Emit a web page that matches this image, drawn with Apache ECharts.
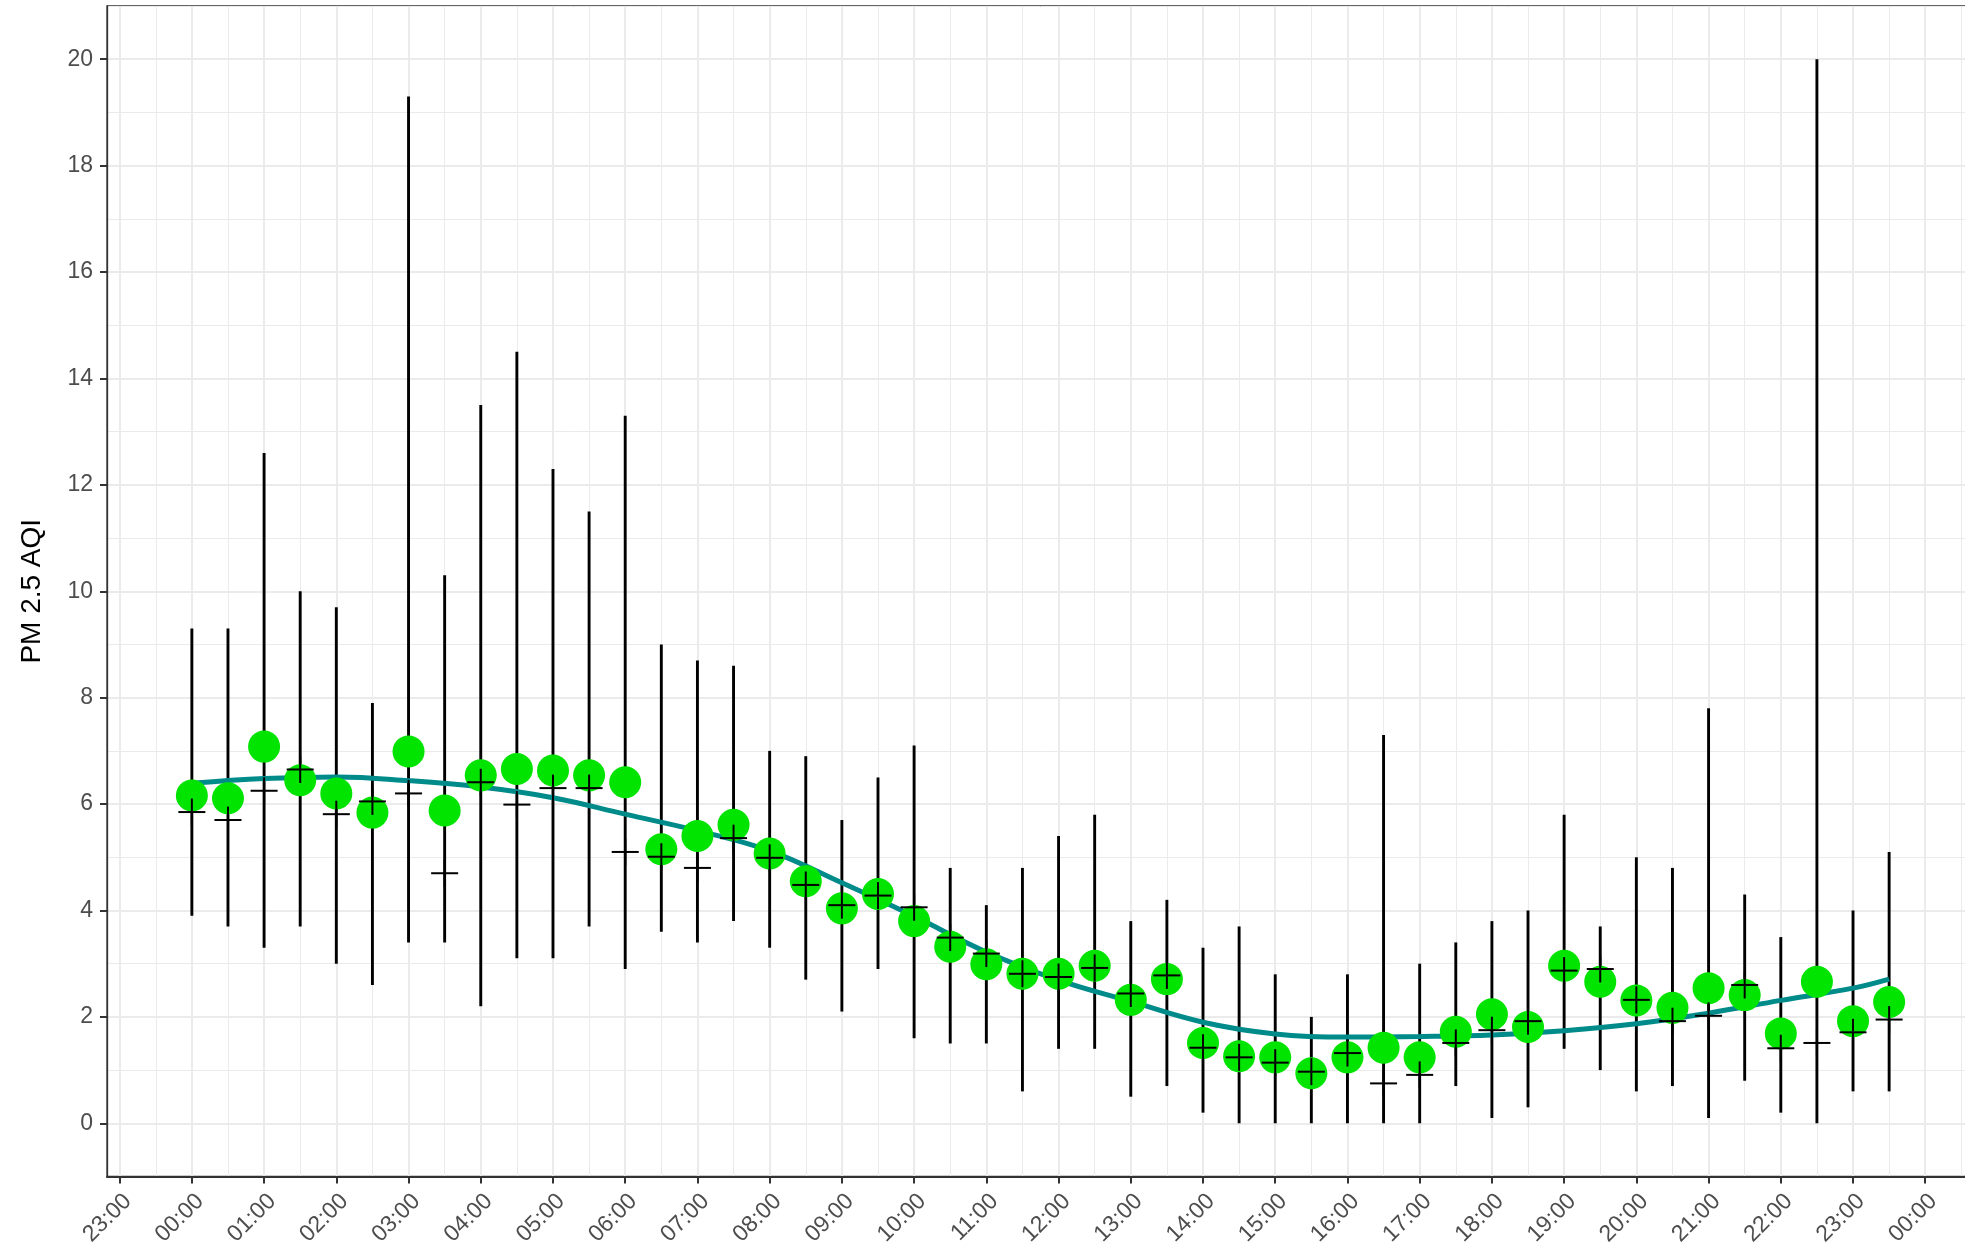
<!DOCTYPE html>
<html>
<head>
<meta charset="utf-8">
<script src="https://cdn.jsdelivr.net/npm/echarts@6/dist/echarts.min.js"></script>
<style>
html,body{margin:0;padding:0;background:#fff;overflow:hidden;}
#chart{width:1974px;height:1249px;}
</style>
</head>
<body>
<div id="chart"></div>
<script>
// Half-hourly categories
const times = ['00:00','00:30','01:00','01:30','02:00','02:30','03:00','03:30','04:00','04:30','05:00','05:30',
  '06:00','06:30','07:00','07:30','08:00','08:30','09:00','09:30','10:00','10:30','11:00','11:30',
  '12:00','12:30','13:00','13:30','14:00','14:30','15:00','15:30','16:00','16:30','17:00','17:30',
  '18:00','18:30','19:00','19:30','20:00','20:30','21:00','21:30','22:00','22:30','23:00','23:30'];
// Mean (green dots)
const means = [6.16,6.11,7.08,6.45,6.20,5.84,6.99,5.88,6.54,6.66,6.63,6.54,
  6.41,5.15,5.40,5.61,5.07,4.55,4.04,4.31,3.80,3.32,2.99,2.81,
  2.81,2.96,2.32,2.71,1.51,1.26,1.24,0.94,1.24,1.42,1.24,1.72,
  2.05,1.81,2.96,2.66,2.31,2.17,2.54,2.41,1.69,2.66,1.92,2.28];
// Median (+ marks)
const medians = [5.85,5.70,6.25,6.65,5.81,6.05,6.20,4.70,6.41,5.99,6.30,6.30,
  5.10,5.01,4.80,5.36,4.99,4.48,4.10,4.28,4.06,3.49,3.19,2.81,
  2.75,2.92,2.44,2.78,1.42,1.24,1.14,0.97,1.32,0.75,0.91,1.51,
  1.75,1.92,2.87,2.90,2.32,1.92,2.02,2.60,1.41,1.51,1.71,1.95];
// Range minimum / maximum
const mins = [3.9,3.7,3.3,3.7,3.0,2.6,3.4,3.4,2.2,3.1,3.1,3.7,
  2.9,3.6,3.4,3.8,3.3,2.7,2.1,2.9,1.6,1.5,1.5,0.6,
  1.4,1.4,0.5,0.7,0.2,0.0,0.0,0.0,0.0,0.0,0.0,0.7,
  0.1,0.3,1.4,1.0,0.6,0.7,0.1,0.8,0.2,0.0,0.6,0.6];
const maxs = [9.3,9.3,12.6,10.0,9.7,7.9,19.3,10.3,13.5,14.5,12.3,11.5,
  13.3,9.0,8.7,8.6,7.0,6.9,5.7,6.5,7.1,4.8,4.1,4.8,
  5.4,5.8,3.8,4.2,3.3,3.7,2.8,2.0,2.8,7.3,3.0,3.4,
  3.8,4.0,5.8,3.7,5.0,4.8,7.8,4.3,3.5,20.0,4.0,5.1];
// Smoothed trend (teal line)
const smoothTimes = ['00:00','01:00','02:00','03:00','04:00','05:00','06:00','07:00','08:00','09:00','10:00','11:00',
  '12:00','13:00','14:00','15:00','16:00','17:00','18:00','19:00','20:00','21:00','22:00','23:00','23:30'];
const smoothVals = [6.39,6.48,6.51,6.44,6.32,6.12,5.81,5.50,5.12,4.52,3.89,3.22,
  2.69,2.29,1.90,1.68,1.62,1.63,1.66,1.74,1.87,2.07,2.31,2.54,2.71];
// Tick labels
const xTickValues = [-1,0,1,2,3,4,5,6,7,8,9,10,11,12,13,14,15,16,17,18,19,20,21,22,23,24];
const xTickLabels = ['23:00','00:00','01:00','02:00','03:00','04:00','05:00','06:00','07:00','08:00','09:00','10:00','11:00',
  '12:00','13:00','14:00','15:00','16:00','17:00','18:00','19:00','20:00','21:00','22:00','23:00','00:00'];
const yTickValues = [0,2,4,6,8,10,12,14,16,18,20];

function toHours(t){ const p = t.split(':'); return +p[0] + (+p[1])/60; }

const rangeData = times.map((t,i)=>[toHours(t), mins[i], maxs[i]]);
const meanData = times.map((t,i)=>[toHours(t), means[i]]);
const medData = times.map((t,i)=>[toHours(t), medians[i]]);
const smoothData = smoothTimes.map((t,i)=>[toHours(t), smoothVals[i]]);

const X_MIN = -1.175, X_MAX = 24.675, Y_MIN = -1, Y_MAX = 21;
const GRID_COL = '#EBEBEB';
const TXT = '#4D4D4D';
const FONT = 'Liberation Sans, Arial, Helvetica, sans-serif';

const chart = echarts.init(document.getElementById('chart'), null, {renderer:'canvas'});
chart.setOption({
  animation:false,
  backgroundColor:'#ffffff',
  grid:{left:107, top:6, right:0, bottom:72.5, show:true, backgroundColor:'#ffffff', borderColor:'#333333', borderWidth:1.3},
  xAxis:[
    {type:'value', min:X_MIN, max:X_MAX, splitNumber:26, position:'bottom',
     axisLine:{show:true, onZero:false, lineStyle:{color:'#333333', width:2}},
     axisTick:{show:true, length:7, lineStyle:{color:'#333333', width:2}, customValues:xTickValues},
     axisLabel:{show:true, rotate:45, margin:13, verticalAlign:'top', align:'right', color:TXT, fontSize:23, fontFamily:FONT,
       customValues:xTickValues,
       formatter:function(v){ const k = Math.round(v); if (Math.abs(v-k)>1e-6) return ''; const idx = xTickValues.indexOf(k); return idx>=0 ? xTickLabels[idx] : ''; }},
     splitLine:{show:true, lineStyle:{color:GRID_COL, width:2}},
     z:1},
    {type:'value', min:X_MIN+0.5, max:X_MAX+0.5, splitNumber:26, position:'top',
     axisLine:{show:false}, axisTick:{show:false}, axisLabel:{show:false},
     splitLine:{show:true, lineStyle:{color:GRID_COL, width:1}}, z:0}
  ],
  yAxis:[
    {type:'value', min:Y_MIN, max:Y_MAX, splitNumber:11, position:'left',
     name:'PM 2.5 AQI', nameLocation:'middle', nameGap:61,
     nameTextStyle:{color:'#000000', fontSize:28, fontFamily:FONT},
     axisLine:{show:true, onZero:false, lineStyle:{color:'#333333', width:1.3}},
     axisTick:{show:true, length:7, lineStyle:{color:'#333333', width:2}, customValues:yTickValues},
     axisLabel:{show:true, margin:14, color:TXT, fontSize:23, fontFamily:FONT,
       customValues:yTickValues,
       formatter:function(v){ return yTickValues.indexOf(v)>=0 ? String(v) : ''; }},
     splitLine:{show:true, lineStyle:{color:GRID_COL, width:2}},
     z:1},
    {type:'value', min:0, max:22, interval:2, position:'right',
     axisLine:{show:false}, axisTick:{show:false}, axisLabel:{show:false},
     splitLine:{show:true, lineStyle:{color:GRID_COL, width:1}}, z:0}
  ],
  series:[
    {type:'custom', name:'range', xAxisIndex:0, yAxisIndex:0, z:2,
     encode:{x:0, y:[1,2]},
     data:rangeData,
     renderItem:function(params, api){
       const x = api.value(0);
       const p1 = api.coord([x, api.value(1)]);
       const p2 = api.coord([x, api.value(2)]);
       return {type:'line', shape:{x1:p1[0], y1:p1[1], x2:p2[0], y2:p2[1]},
               style:{stroke:'#000000', lineWidth:2.9, lineCap:'butt'}};
     }},
    {type:'line', name:'smooth', xAxisIndex:0, yAxisIndex:0, z:3,
     data:smoothData, smooth:0.4, showSymbol:false, symbol:'none',
     lineStyle:{color:'#008B8B', width:5}},
    {type:'scatter', name:'mean', xAxisIndex:0, yAxisIndex:0, z:4,
     data:meanData, symbol:'circle', symbolSize:32,
     itemStyle:{color:'#00E400', opacity:1}},
    {type:'custom', name:'median', xAxisIndex:0, yAxisIndex:0, z:5,
     encode:{x:0, y:1},
     data:medData,
     renderItem:function(params, api){
       const c = api.coord([api.value(0), api.value(1)]);
       const h = 13.5;
       return {type:'group', children:[
         {type:'line', shape:{x1:c[0]-h, y1:c[1], x2:c[0]+h, y2:c[1]}, style:{stroke:'#000000', lineWidth:2}},
         {type:'line', shape:{x1:c[0], y1:c[1]-h, x2:c[0], y2:c[1]+h}, style:{stroke:'#000000', lineWidth:2}}
       ]};
     }}
  ]
});
</script>
</body>
</html>
